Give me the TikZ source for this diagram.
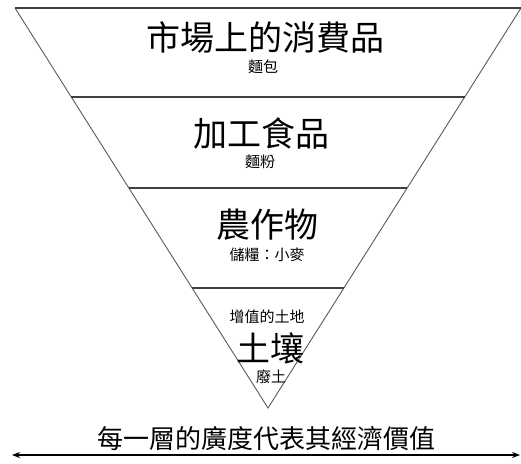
\documentclass[tikz,border=0pt]{standalone}
\usepackage{fontspec}
\newfontfamily\cjk{Noto Sans CJK TC}
\usetikzlibrary{calc,arrows.meta}
\begin{document}
\begin{tikzpicture}[x=1pt,y=-1pt,
  edge/.style={draw=black!65,line width=0.9pt},
  layer/.style={draw=black!75,line width=1.6pt},
  big/.style={inner sep=0pt,font=\cjk\fontsize{34}{36}\selectfont},
  small/.style={inner sep=0pt,font=\cjk\fontsize{15}{17}\selectfont},
  note/.style={inner sep=0pt,font=\cjk\fontsize{26}{28}\selectfont},
  scale arrow/.style={draw=black,line width=1.2pt,{Stealth[length=8pt,width=6pt]}-{Stealth[length=8pt,width=6pt]}}]
\useasboundingbox (0,0) rectangle (521,463);
\coordinate (L) at (15,8);
\coordinate (R) at (521,8);
\coordinate (A) at (268,408);
% triangle sides
\draw[edge] (L) -- (A) -- (R);
% layer lines
\draw[layer] (L) -- (R);
\draw[layer] ($(L)!0.2225!(A)$) -- ($(R)!0.2225!(A)$);
\draw[layer] ($(L)!0.45!(A)$) -- ($(R)!0.45!(A)$);
\draw[layer] ($(L)!0.70!(A)$) -- ($(R)!0.70!(A)$);
% texts
\node[big] (t1) at (265,38) {市場上的消費品};
\node[small] (s1) at (263,67) {麵包};
\node[big] (t2) at (261,133) {加工食品};
\node[small] (s2) at (260,162) {麵粉};
\node[big] (t3) at (267,225) {農作物};
\node[small] (s3) at (267,255) {儲糧：小麥};
\node[small] (s4a) at (267,317) {增值的土地};
\node[big] (t4) at (270,348) {土壤};
\node[small] (s4) at (271,377) {廢土};
\node[note] (n) at (266,439) {每一層的廣度代表其經濟價值};
\coordinate (aL) at (12,455);
\coordinate (aR) at (520,455);
\draw[scale arrow] (aL) -- (aR);
\end{tikzpicture}
\end{document}
